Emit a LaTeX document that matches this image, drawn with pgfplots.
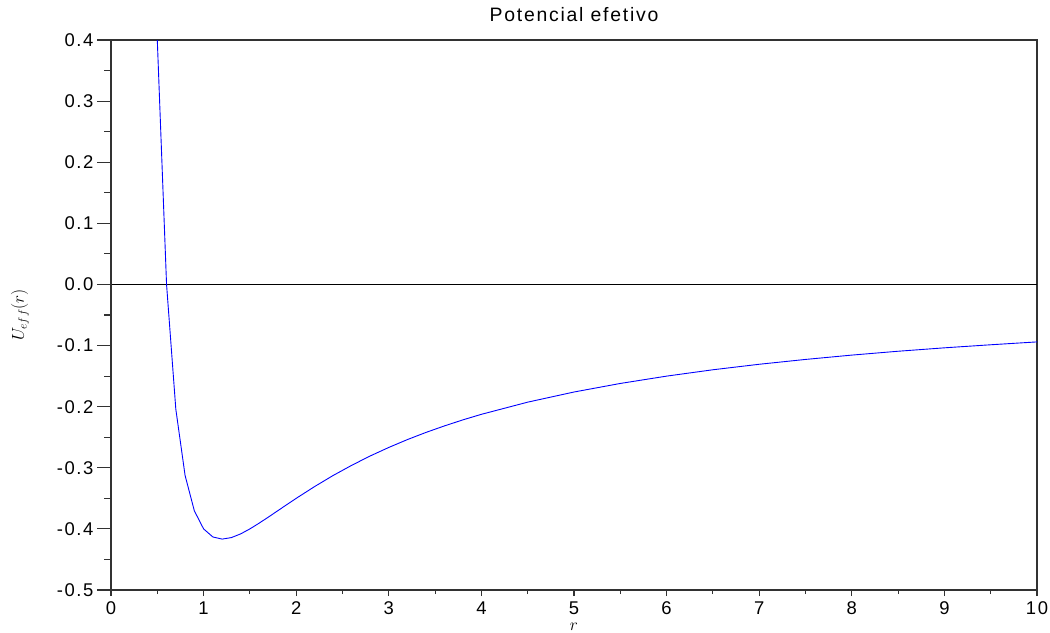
\documentclass[border=0pt]{standalone}
\usepackage{fontspec}
\setmainfont{Liberation Sans}[LetterSpace=9]
\usepackage{pgfplots}
\pgfplotsset{compat=1.18}
\definecolor{axgray}{RGB}{50,50,50}
\pgfplotstableread{
r U
0.4 1.25
0.5 0.4
0.6 0.0
0.7 -0.2041
0.8 -0.3125
0.9 -0.3704
1.0 -0.4
1.1 -0.4132
1.2 -0.4167
1.3 -0.4142
1.4 -0.4082
1.5 -0.4
1.6 -0.3906
1.7 -0.3806
1.8 -0.3704
1.9 -0.3601
2.0 -0.35
2.2 -0.3306
2.4 -0.3125
2.6 -0.2959
2.8 -0.2806
3.0 -0.2667
3.2 -0.2539
3.4 -0.2422
3.6 -0.2315
3.8 -0.2216
4.0 -0.2125
4.5 -0.1926
5.0 -0.176
5.5 -0.1620
6.0 -0.15
6.5 -0.1396
7.0 -0.1306
7.5 -0.1227
8.0 -0.1156
8.5 -0.1093
9.0 -0.1037
9.5 -0.0987
10.0 -0.094
}\curve
\begin{document}
\begin{tikzpicture}
\path[use as bounding box] (0bp,0bp) rectangle (1050bp,-633bp);
\begin{axis}[
  at={(111bp,-590bp)}, anchor=south west,
  scale only axis, width=926bp, height=550bp,
  xmin=0, xmax=10, ymin=-0.5, ymax=0.4,
  xtick={0,1,...,10}, minor x tick num=1,
  ytick=\empty,
  xtick pos=bottom, tick align=outside,
  major tick length=6bp, minor tick length=4bp,
  axis line style={axgray, line width=1.2pt},
  every tick/.style={axgray, line width=1.1pt},
  /pgf/number format/assume math mode=true,
  xticklabel style={font=\fontsize{18.5}{20}\selectfont, yshift=-2bp},
  title={Potencial efetivo},
  title style={font=\fontsize{19.5}{21}\selectfont, anchor=base, at={(0.5,1)}, yshift=13bp},
  xlabel={$r$},
  xlabel style={font=\fontsize{17}{19}\selectfont, inner sep=0pt, at={(axis description cs:0.5,0)}, anchor=south, yshift=-41bp},
  ylabel={$U_{eff}(r)$},
  ylabel style={font=\fontsize{18}{20}\selectfont, at={(axis description cs:-0.0983,0.5)}, anchor=center},
]
\addplot[black, line width=0.9pt] coordinates {(0,0) (10,0)};
\addplot[blue, line width=0.9pt] table[x=r, y=U] {\curve};
\end{axis}
\begin{axis}[
  at={(111bp,-590bp)}, anchor=south west,
  scale only axis, width=926bp, height=550bp,
  xmin=0, xmax=10, ymin=-0.5, ymax=0.4,
  axis x line=none, axis y line*=left,
  ytick={-0.5,-0.4,...,0.4},
  yticklabels={-0.5,-0.4,-0.3,-0.2,-0.1,0.0,0.1,0.2,0.3,0.4},
  minor y tick num=1,
  tick align=outside,
  major tick length=14bp, minor tick length=7bp,
  axis line style={axgray, line width=1.2pt, -},
  every tick/.style={axgray, line width=1.1pt},
  yticklabel style={font=\fontsize{18.5}{20}\selectfont},
]
\addplot[draw=none] coordinates {(0,0)};
\end{axis}
\end{tikzpicture}
\end{document}
